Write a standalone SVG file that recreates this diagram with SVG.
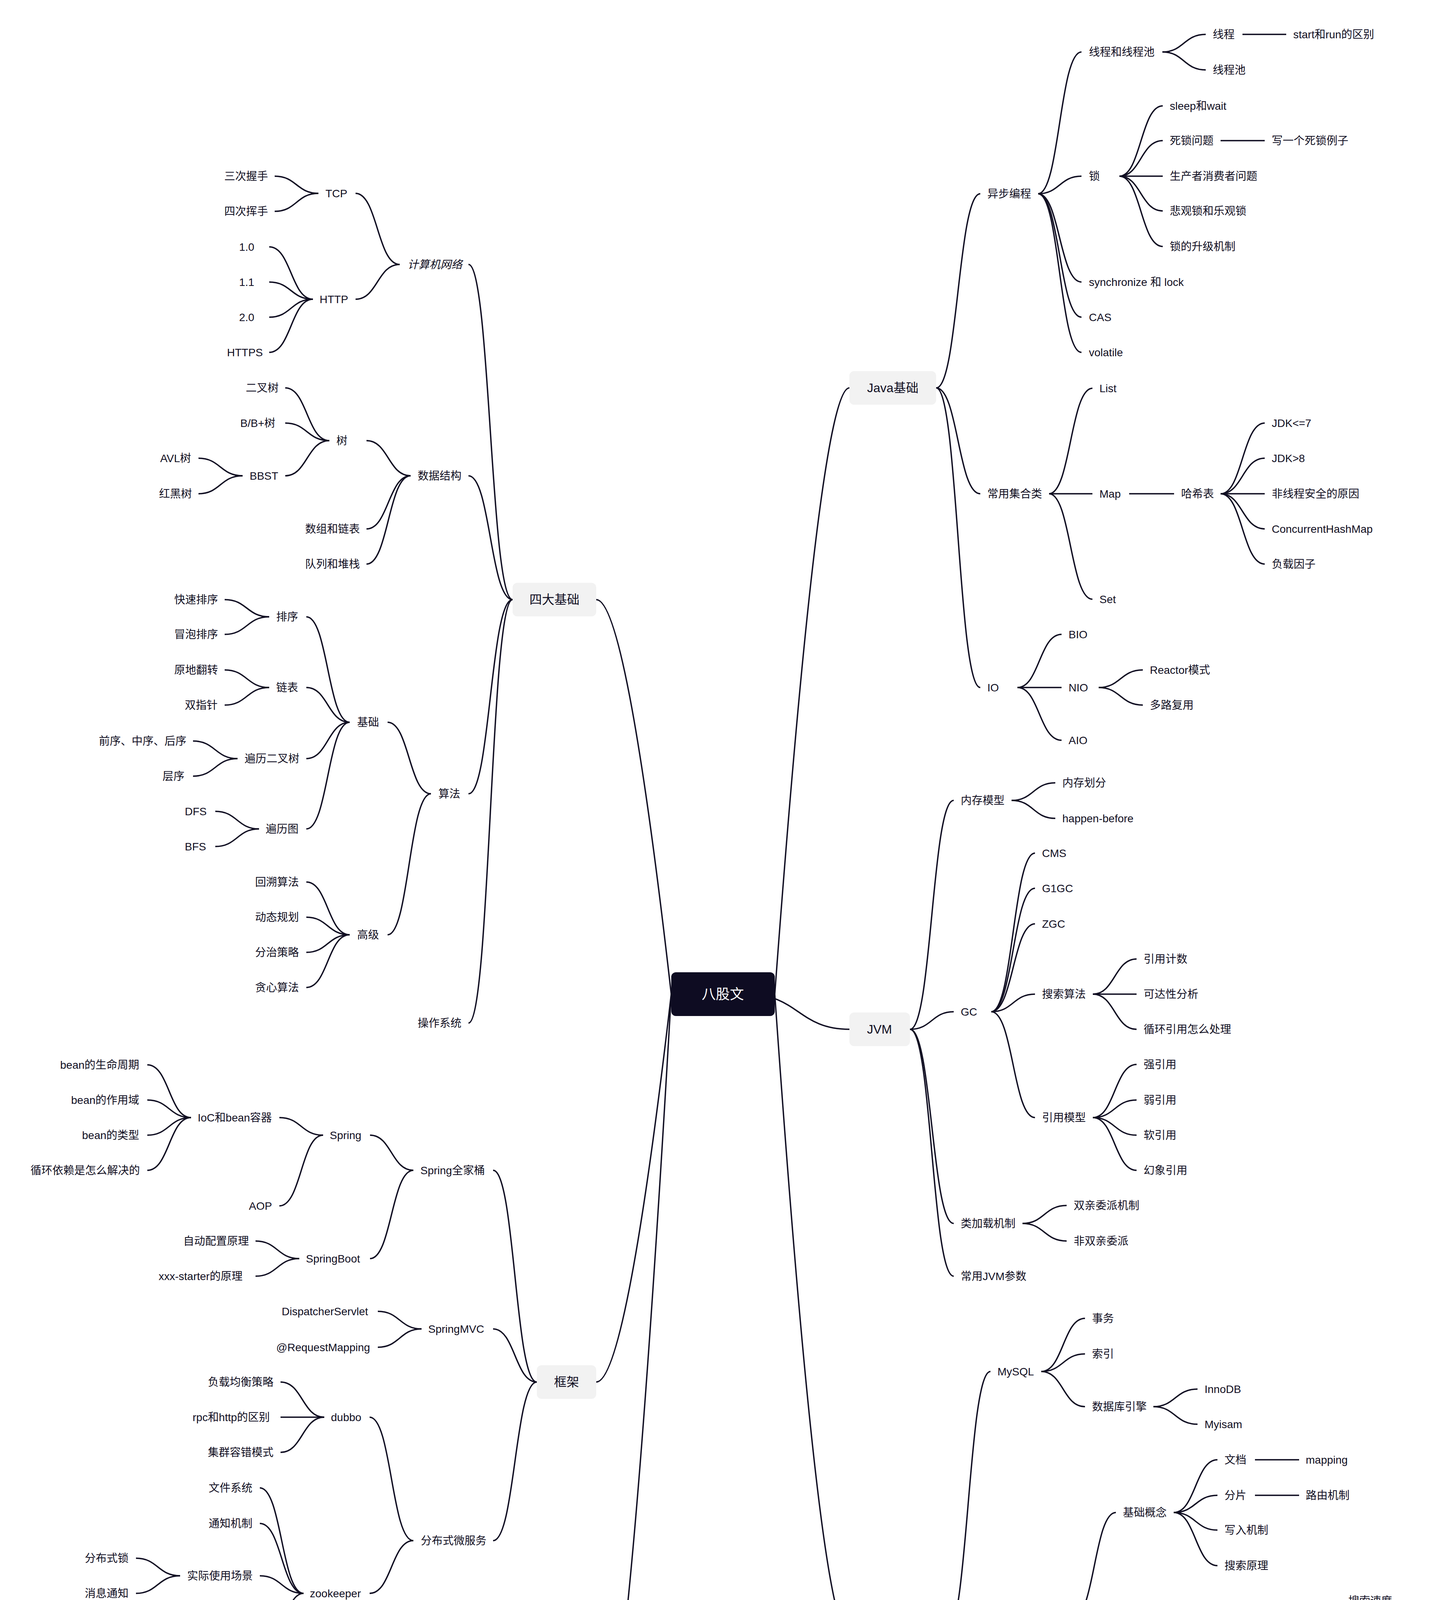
<svg xmlns="http://www.w3.org/2000/svg" width="3724" height="5090" viewBox="0 0 3724 5090">
<style>
.t{font-family:"Liberation Sans","Noto Sans CJK SC",sans-serif;font-size:28px;fill:#100e22}
.it{font-style:italic}
.l1 rect{fill:#f2f2f2}
.l1 text{font-family:"Liberation Sans","Noto Sans CJK SC",sans-serif;font-size:32px;fill:#100e22;text-anchor:middle}
.root rect{fill:#0e0c22}
.root text{font-family:"Liberation Sans","Noto Sans CJK SC",sans-serif;font-size:36px;fill:#ffffff;text-anchor:middle}
#connectors path{fill:none;stroke:#100e22;stroke-width:3.5}
</style>
<rect width="3724" height="5090" fill="#ffffff"/>
<g id="connectors">
<path d="M1983 2545Q2098 993 2174 993"/>
<path d="M1912 2545C2043 2545 2043 2635 2174 2635"/>
<path d="M1983 2545Q2098 4188 2174 4188"/>
<path d="M1718 2545Q1603 1535 1526 1535"/>
<path d="M1718 2545Q1603 3538 1526 3538"/>
<path d="M1718 2545Q1603 4546 1526 4546"/>
<path d="M2396 993C2452 993 2452 496 2509 496"/>
<path d="M2396 993C2452 993 2452 1264 2509 1264"/>
<path d="M2396 993C2452 993 2452 1760 2509 1760"/>
<path d="M2657 496C2712 496 2712 133 2768 133"/>
<path d="M2657 496C2712 496 2712 451 2768 451"/>
<path d="M2657 496C2712 496 2712 722 2768 722"/>
<path d="M2657 496C2712 496 2712 812 2768 812"/>
<path d="M2657 496C2712 496 2712 902 2768 902"/>
<path d="M2975 133C3030 133 3030 88 3086 88"/>
<path d="M2975 133C3030 133 3030 179 3086 179"/>
<path d="M3180 88H3292"/>
<path d="M2865 451C2920 451 2920 271 2976 271"/>
<path d="M2865 451C2920 451 2920 360 2976 360"/>
<path d="M2865 451H2976"/>
<path d="M2865 451C2920 451 2920 540 2976 540"/>
<path d="M2865 451C2920 451 2920 631 2976 631"/>
<path d="M3124 360H3237"/>
<path d="M2685 1264C2740 1264 2740 994 2796 994"/>
<path d="M2685 1264H2796"/>
<path d="M2685 1264C2740 1264 2740 1534 2796 1534"/>
<path d="M2890 1264H3005"/>
<path d="M3124 1264C3180 1264 3180 1083 3237 1083"/>
<path d="M3124 1264C3180 1264 3180 1173 3237 1173"/>
<path d="M3124 1264H3237"/>
<path d="M3124 1264C3180 1264 3180 1354 3237 1354"/>
<path d="M3124 1264C3180 1264 3180 1444 3237 1444"/>
<path d="M2604 1760C2660 1760 2660 1624 2717 1624"/>
<path d="M2604 1760H2717"/>
<path d="M2604 1760C2660 1760 2660 1895 2717 1895"/>
<path d="M2812 1760C2868 1760 2868 1715 2925 1715"/>
<path d="M2812 1760C2868 1760 2868 1805 2925 1805"/>
<path d="M2329 2635C2385 2635 2385 2049 2441 2049"/>
<path d="M2329 2635C2385 2635 2385 2590 2441 2590"/>
<path d="M2329 2635C2385 2635 2385 3132 2441 3132"/>
<path d="M2329 2635C2385 2635 2385 3267 2441 3267"/>
<path d="M2589 2049C2645 2049 2645 2004 2701 2004"/>
<path d="M2589 2049C2645 2049 2645 2095 2701 2095"/>
<path d="M2537 2590C2593 2590 2593 2184 2649 2184"/>
<path d="M2537 2590C2593 2590 2593 2274 2649 2274"/>
<path d="M2537 2590C2593 2590 2593 2365 2649 2365"/>
<path d="M2537 2590C2593 2590 2593 2545 2649 2545"/>
<path d="M2537 2590C2593 2590 2593 2861 2649 2861"/>
<path d="M2797 2545C2853 2545 2853 2455 2909 2455"/>
<path d="M2797 2545H2909"/>
<path d="M2797 2545C2853 2545 2853 2635 2909 2635"/>
<path d="M2797 2861C2853 2861 2853 2725 2909 2725"/>
<path d="M2797 2861C2853 2861 2853 2816 2909 2816"/>
<path d="M2797 2861C2853 2861 2853 2906 2909 2906"/>
<path d="M2797 2861C2853 2861 2853 2996 2909 2996"/>
<path d="M2617 3132C2673 3132 2673 3086 2730 3086"/>
<path d="M2617 3132C2673 3132 2673 3177 2730 3177"/>
<path d="M2421 4188C2478 4188 2478 3511 2535 3511"/>
<path d="M2421 4188C2478 4188 2478 4142 2535 4142"/>
<path d="M2421 4188C2478 4188 2478 4820 2535 4820"/>
<path d="M2665 3511C2721 3511 2721 3375 2777 3375"/>
<path d="M2665 3511C2721 3511 2721 3466 2777 3466"/>
<path d="M2665 3511C2721 3511 2721 3601 2777 3601"/>
<path d="M2952 3601C3008 3601 3008 3556 3065 3556"/>
<path d="M2952 3601C3008 3601 3008 3646 3065 3646"/>
<path d="M2747 4142C2801 4142 2801 3872 2856 3872"/>
<path d="M2747 4142C2801 4142 2801 4323 2856 4323"/>
<path d="M3004 3872C3060 3872 3060 3737 3116 3737"/>
<path d="M3004 3872C3060 3872 3060 3828 3116 3828"/>
<path d="M3004 3872C3060 3872 3060 3917 3116 3917"/>
<path d="M3004 3872C3060 3872 3060 4008 3116 4008"/>
<path d="M3212 3737H3325"/>
<path d="M3212 3828H3325"/>
<path d="M3004 4323C3060 4323 3060 4188 3116 4188"/>
<path d="M3004 4323C3060 4323 3060 4368 3116 4368"/>
<path d="M3004 4323C3060 4323 3060 4503 3116 4503"/>
<path d="M3320 4188C3376 4188 3376 4098 3433 4098"/>
<path d="M3320 4188H3433"/>
<path d="M3320 4188C3376 4188 3376 4278 3433 4278"/>
<path d="M3264 4503C3320 4503 3320 4458 3376 4458"/>
<path d="M3264 4503C3320 4503 3320 4548 3376 4548"/>
<path d="M2646 4820C2702 4820 2702 4774 2758 4774"/>
<path d="M2646 4820C2702 4820 2702 4999 2758 4999"/>
<path d="M2907 4774C2962 4774 2962 4640 3017 4640"/>
<path d="M2907 4774C2962 4774 2962 4730 3017 4730"/>
<path d="M2907 4774C2962 4774 2962 4820 3017 4820"/>
<path d="M2907 4774C2962 4774 2962 4911 3017 4911"/>
<path d="M2907 4999H3017"/>
<path d="M1312 1535C1255 1535 1255 677 1199 677"/>
<path d="M1312 1535C1255 1535 1255 1218 1199 1218"/>
<path d="M1312 1535C1255 1535 1255 2032 1199 2032"/>
<path d="M1312 1535C1255 1535 1255 2619 1199 2619"/>
<path d="M1023 677C966 677 966 495 910 495"/>
<path d="M1023 677C966 677 966 766 910 766"/>
<path d="M815 495C759 495 759 451 703 451"/>
<path d="M815 495C759 495 759 541 703 541"/>
<path d="M801 766C745 766 745 632 689 632"/>
<path d="M801 766C745 766 745 722 689 722"/>
<path d="M801 766C745 766 745 812 689 812"/>
<path d="M801 766C745 766 745 902 689 902"/>
<path d="M1051 1218C994 1218 994 1128 938 1128"/>
<path d="M1051 1218C994 1218 994 1354 938 1354"/>
<path d="M1051 1218C994 1218 994 1444 938 1444"/>
<path d="M843 1128C786 1128 786 993 730 993"/>
<path d="M843 1128C786 1128 786 1083 730 1083"/>
<path d="M843 1128C786 1128 786 1218 730 1218"/>
<path d="M621 1218C564 1218 564 1173 508 1173"/>
<path d="M621 1218C564 1218 564 1264 508 1264"/>
<path d="M1103 2032C1047 2032 1047 1849 992 1849"/>
<path d="M1103 2032C1047 2032 1047 2393 992 2393"/>
<path d="M895 1849C839 1849 839 1579 784 1579"/>
<path d="M895 1849C839 1849 839 1760 784 1760"/>
<path d="M895 1849C839 1849 839 1942 784 1942"/>
<path d="M895 1849C839 1849 839 2122 784 2122"/>
<path d="M689 1579C632 1579 632 1535 575 1535"/>
<path d="M689 1579C632 1579 632 1624 575 1624"/>
<path d="M689 1760C632 1760 632 1715 575 1715"/>
<path d="M689 1760C632 1760 632 1805 575 1805"/>
<path d="M608 1942C551 1942 551 1897 494 1897"/>
<path d="M608 1942C551 1942 551 1987 494 1987"/>
<path d="M663 2122C607 2122 607 2077 551 2077"/>
<path d="M663 2122C607 2122 607 2167 551 2167"/>
<path d="M895 2393C839 2393 839 2258 784 2258"/>
<path d="M895 2393C839 2393 839 2348 784 2348"/>
<path d="M895 2393C839 2393 839 2438 784 2438"/>
<path d="M895 2393C839 2393 839 2528 784 2528"/>
<path d="M1374 3538C1318 3538 1318 2996 1262 2996"/>
<path d="M1374 3538C1318 3538 1318 3402 1262 3402"/>
<path d="M1374 3538C1318 3538 1318 3944 1262 3944"/>
<path d="M1058 2996C1002 2996 1002 2906 947 2906"/>
<path d="M1058 2996C1002 2996 1002 3222 947 3222"/>
<path d="M827 2906C771 2906 771 2861 715 2861"/>
<path d="M827 2906C771 2906 771 3087 715 3087"/>
<path d="M489 2861C433 2861 433 2726 377 2726"/>
<path d="M489 2861C433 2861 433 2816 377 2816"/>
<path d="M489 2861C433 2861 433 2906 377 2906"/>
<path d="M489 2861C433 2861 433 2996 377 2996"/>
<path d="M766 3222C710 3222 710 3177 654 3177"/>
<path d="M766 3222C710 3222 710 3267 654 3267"/>
<path d="M1079 3402C1023 3402 1023 3357 967 3357"/>
<path d="M1079 3402C1023 3402 1023 3449 967 3449"/>
<path d="M1058 3944C1002 3944 1002 3628 946 3628"/>
<path d="M1058 3944C1002 3944 1002 4079 946 4079"/>
<path d="M830 3628C774 3628 774 3538 718 3538"/>
<path d="M830 3628H718"/>
<path d="M830 3628C774 3628 774 3718 718 3718"/>
<path d="M777 4079C721 4079 721 3809 665 3809"/>
<path d="M777 4079C721 4079 721 3900 665 3900"/>
<path d="M777 4079C721 4079 721 4034 665 4034"/>
<path d="M777 4079C721 4079 721 4260 665 4260"/>
<path d="M461 4034C404 4034 404 3989 348 3989"/>
<path d="M461 4034C404 4034 404 4079 348 4079"/>
<path d="M516 4260C460 4260 460 4171 404 4171"/>
<path d="M516 4260H404"/>
<path d="M516 4260C460 4260 460 4350 404 4350"/>
<path d="M1374 4546C1318 4546 1318 4457 1262 4457"/>
<path d="M1374 4546H1262"/>
<path d="M1374 4546C1318 4546 1318 4638 1262 4638"/>
</g>
<g id="root" class="root"><rect x="1718" y="2489" width="265" height="112" rx="12"/><text x="1850" y="2558">八股文</text></g>
<g id="java" class="l1"><rect x="2174" y="950" width="222" height="86" rx="12"/><text x="2285" y="1004">Java基础</text></g>
<g id="jvm" class="l1"><rect x="2174" y="2592" width="155" height="86" rx="12"/><text x="2251" y="2646">JVM</text></g>
<g id="middleware" class="l1"><rect x="2174" y="4145" width="247" height="86" rx="12"/><text x="2297" y="4199">常用中间件</text></g>
<g id="basics4" class="l1"><rect x="1312" y="1492" width="214" height="86" rx="12"/><text x="1419" y="1546">四大基础</text></g>
<g id="framework" class="l1"><rect x="1374" y="3495" width="152" height="86" rx="12"/><text x="1450" y="3549">框架</text></g>
<g id="other" class="l1"><rect x="1374" y="4503" width="152" height="86" rx="12"/><text x="1450" y="4557">其他</text></g>
<g id="async"><text class="t" x="2527" y="506">异步编程</text></g>
<g id="collections"><text class="t" x="2527" y="1274">常用集合类</text></g>
<g id="io"><text class="t" x="2527" y="1770">IO</text></g>
<g id="thread-pool"><text class="t" x="2787" y="143">线程和线程池</text></g>
<g id="lock"><text class="t" x="2787" y="461">锁</text></g>
<g id="sync-lock"><text class="t" x="2787" y="732">synchronize 和 lock</text></g>
<g id="cas"><text class="t" x="2787" y="822">CAS</text></g>
<g id="volatile"><text class="t" x="2787" y="912">volatile</text></g>
<g id="list"><text class="t" x="2814" y="1004">List</text></g>
<g id="map"><text class="t" x="2814" y="1274">Map</text></g>
<g id="set"><text class="t" x="2814" y="1544">Set</text></g>
<g id="bio"><text class="t" x="2735" y="1634">BIO</text></g>
<g id="nio"><text class="t" x="2735" y="1770">NIO</text></g>
<g id="aio"><text class="t" x="2735" y="1905">AIO</text></g>
<g id="thread"><text class="t" x="3104" y="98">线程</text></g>
<g id="pool"><text class="t" x="3104" y="189">线程池</text></g>
<g id="start-run"><text class="t" x="3310" y="98">start和run的区别</text></g>
<g id="sleep-wait"><text class="t" x="2994" y="281">sleep和wait</text></g>
<g id="deadlock"><text class="t" x="2994" y="370">死锁问题</text></g>
<g id="deadlock-ex"><text class="t" x="3255" y="370">写一个死锁例子</text></g>
<g id="producer-consumer"><text class="t" x="2994" y="461">生产者消费者问题</text></g>
<g id="pess-opt"><text class="t" x="2994" y="550">悲观锁和乐观锁</text></g>
<g id="lock-upgrade"><text class="t" x="2994" y="641">锁的升级机制</text></g>
<g id="hashtable"><text class="t" x="3023" y="1274">哈希表</text></g>
<g id="jdk7"><text class="t" x="3255" y="1093">JDK&lt;=7</text></g>
<g id="jdk8"><text class="t" x="3255" y="1183">JDK&gt;8</text></g>
<g id="unsafe"><text class="t" x="3255" y="1274">非线程安全的原因</text></g>
<g id="chm"><text class="t" x="3255" y="1364">ConcurrentHashMap</text></g>
<g id="loadfactor"><text class="t" x="3255" y="1454">负载因子</text></g>
<g id="reactor"><text class="t" x="2943" y="1725">Reactor模式</text></g>
<g id="multiplex"><text class="t" x="2943" y="1815">多路复用</text></g>
<g id="memmodel"><text class="t" x="2459" y="2059">内存模型</text></g>
<g id="gc"><text class="t" x="2459" y="2600">GC</text></g>
<g id="classload"><text class="t" x="2459" y="3142">类加载机制</text></g>
<g id="jvmparams"><text class="t" x="2459" y="3277">常用JVM参数</text></g>
<g id="memdiv"><text class="t" x="2719" y="2014">内存划分</text></g>
<g id="hb"><text class="t" x="2719" y="2105">happen-before</text></g>
<g id="cms"><text class="t" x="2667" y="2194">CMS</text></g>
<g id="g1gc"><text class="t" x="2667" y="2284">G1GC</text></g>
<g id="zgc"><text class="t" x="2667" y="2375">ZGC</text></g>
<g id="searchalg"><text class="t" x="2667" y="2555">搜索算法</text></g>
<g id="refmodel"><text class="t" x="2667" y="2871">引用模型</text></g>
<g id="refcount"><text class="t" x="2927" y="2465">引用计数</text></g>
<g id="reach"><text class="t" x="2927" y="2555">可达性分析</text></g>
<g id="cycle"><text class="t" x="2927" y="2645">循环引用怎么处理</text></g>
<g id="strong"><text class="t" x="2927" y="2735">强引用</text></g>
<g id="weak"><text class="t" x="2927" y="2826">弱引用</text></g>
<g id="soft"><text class="t" x="2927" y="2916">软引用</text></g>
<g id="phantom"><text class="t" x="2927" y="3006">幻象引用</text></g>
<g id="parent-deleg"><text class="t" x="2748" y="3096">双亲委派机制</text></g>
<g id="non-parent"><text class="t" x="2748" y="3187">非双亲委派</text></g>
<g id="mysql"><text class="t" x="2553" y="3521">MySQL</text></g>
<g id="es"><text class="t" x="2553" y="4152">Elasticsearch</text></g>
<g id="kafka"><text class="t" x="2553" y="4830">Kafka</text></g>
<g id="tx"><text class="t" x="2795" y="3385">事务</text></g>
<g id="index"><text class="t" x="2795" y="3476">索引</text></g>
<g id="engine"><text class="t" x="2795" y="3611">数据库引擎</text></g>
<g id="innodb"><text class="t" x="3083" y="3566">InnoDB</text></g>
<g id="myisam"><text class="t" x="3083" y="3656">Myisam</text></g>
<g id="es-basic"><text class="t" x="2874" y="3882">基础概念</text></g>
<g id="es-adv"><text class="t" x="2874" y="4333">高级技巧</text></g>
<g id="doc"><text class="t" x="3134" y="3747">文档</text></g>
<g id="shard"><text class="t" x="3134" y="3838">分片</text></g>
<g id="write"><text class="t" x="3134" y="3927">写入机制</text></g>
<g id="searchprin"><text class="t" x="3134" y="4018">搜索原理</text></g>
<g id="mapping"><text class="t" x="3342" y="3747">mapping</text></g>
<g id="routing"><text class="t" x="3342" y="3838">路由机制</text></g>
<g id="optim"><text class="t" x="3134" y="4198">常见优化手段</text></g>
<g id="splitbrain"><text class="t" x="3134" y="4378">脑裂问题</text></g>
<g id="election"><text class="t" x="3134" y="4513">选主机制</text></g>
<g id="speed"><text class="t" x="3451" y="4108">搜索速度</text></g>
<g id="inaccurate"><text class="t" x="3451" y="4198">搜索不准确优化</text></g>
<g id="fastwrite"><text class="t" x="3451" y="4288">加快写入</text></g>
<g id="v10"><text class="t" x="3394" y="4468">1.0 ~ 6.x</text></g>
<g id="v7"><text class="t" x="3394" y="4558">7.x之后</text></g>
<g id="k-basic"><text class="t" x="2776" y="4784">基本概念</text></g>
<g id="k-cluster"><text class="t" x="2776" y="5009">集群模式</text></g>
<g id="topic"><text class="t" x="3035" y="4650">topic</text></g>
<g id="broker"><text class="t" x="3035" y="4740">broker</text></g>
<g id="producer"><text class="t" x="3035" y="4830">producer</text></g>
<g id="consumer"><text class="t" x="3035" y="4921">consumer</text></g>
<g id="master-slave"><text class="t" x="3035" y="5009">主从</text></g>
<g id="network"><text class="t it" x="1043" y="687">计算机网络</text></g>
<g id="ds"><text class="t" x="1069" y="1228">数据结构</text></g>
<g id="algo"><text class="t" x="1122" y="2042">算法</text></g>
<g id="os"><text class="t" x="1069" y="2629">操作系统</text></g>
<g id="tcp"><text class="t" x="833" y="505">TCP</text></g>
<g id="http"><text class="t" x="818" y="776">HTTP</text></g>
<g id="hs3"><text class="t" x="574" y="461">三次握手</text></g>
<g id="hs4"><text class="t" x="574" y="551">四次挥手</text></g>
<g id="h10"><text class="t" x="612" y="642">1.0</text></g>
<g id="h11"><text class="t" x="612" y="732">1.1</text></g>
<g id="h20"><text class="t" x="612" y="822">2.0</text></g>
<g id="https"><text class="t" x="581" y="912">HTTPS</text></g>
<g id="tree"><text class="t" x="861" y="1138">树</text></g>
<g id="array-list"><text class="t" x="781" y="1364">数组和链表</text></g>
<g id="queue-stack"><text class="t" x="781" y="1454">队列和堆栈</text></g>
<g id="bintree"><text class="t" x="629" y="1003">二叉树</text></g>
<g id="btree"><text class="t" x="615" y="1093">B/B+树</text></g>
<g id="bbst"><text class="t" x="639" y="1228">BBST</text></g>
<g id="avl"><text class="t" x="410" y="1183">AVL树</text></g>
<g id="rbt"><text class="t" x="407" y="1274">红黑树</text></g>
<g id="a-basic"><text class="t" x="914" y="1859">基础</text></g>
<g id="a-adv"><text class="t" x="914" y="2403">高级</text></g>
<g id="sort"><text class="t" x="707" y="1589">排序</text></g>
<g id="linked"><text class="t" x="707" y="1770">链表</text></g>
<g id="traverse-tree"><text class="t" x="626" y="1952">遍历二叉树</text></g>
<g id="traverse-graph"><text class="t" x="680" y="2132">遍历图</text></g>
<g id="quicksort"><text class="t" x="446" y="1545">快速排序</text></g>
<g id="bubblesort"><text class="t" x="446" y="1634">冒泡排序</text></g>
<g id="reverse"><text class="t" x="446" y="1725">原地翻转</text></g>
<g id="twoptr"><text class="t" x="473" y="1815">双指针</text></g>
<g id="preorder"><text class="t" x="253" y="1907">前序、中序、后序</text></g>
<g id="levelorder"><text class="t" x="416" y="1997">层序</text></g>
<g id="dfs"><text class="t" x="473" y="2087">DFS</text></g>
<g id="bfs"><text class="t" x="473" y="2177">BFS</text></g>
<g id="backtrack"><text class="t" x="653" y="2268">回溯算法</text></g>
<g id="dp"><text class="t" x="653" y="2358">动态规划</text></g>
<g id="divide"><text class="t" x="653" y="2448">分治策略</text></g>
<g id="greedy"><text class="t" x="653" y="2538">贪心算法</text></g>
<g id="spring-family"><text class="t" x="1076" y="3006">Spring全家桶</text></g>
<g id="springmvc"><text class="t" x="1096" y="3412">SpringMVC</text></g>
<g id="distributed"><text class="t" x="1077" y="3954">分布式微服务</text></g>
<g id="spring"><text class="t" x="844" y="2916">Spring</text></g>
<g id="springboot"><text class="t" x="783" y="3232">SpringBoot</text></g>
<g id="ioc"><text class="t" x="506" y="2871">IoC和bean容器</text></g>
<g id="aop"><text class="t" x="637" y="3097">AOP</text></g>
<g id="bean-life"><text class="t" x="154" y="2736">bean的生命周期</text></g>
<g id="bean-scope"><text class="t" x="182" y="2826">bean的作用域</text></g>
<g id="bean-type"><text class="t" x="210" y="2916">bean的类型</text></g>
<g id="circular"><text class="t" x="78" y="3006">循环依赖是怎么解决的</text></g>
<g id="autoconfig"><text class="t" x="469" y="3187">自动配置原理</text></g>
<g id="starter"><text class="t" x="406" y="3277">xxx-starter的原理</text></g>
<g id="dispatcher"><text class="t" x="721" y="3367">DispatcherServlet</text></g>
<g id="reqmapping"><text class="t" x="707" y="3459">@RequestMapping</text></g>
<g id="dubbo"><text class="t" x="847" y="3638">dubbo</text></g>
<g id="zookeeper"><text class="t" x="793" y="4089">zookeeper</text></g>
<g id="lb"><text class="t" x="532" y="3548">负载均衡策略</text></g>
<g id="rpc-http"><text class="t" x="493" y="3638">rpc和http的区别</text></g>
<g id="faulttol"><text class="t" x="532" y="3728">集群容错模式</text></g>
<g id="fs"><text class="t" x="534" y="3819">文件系统</text></g>
<g id="notify"><text class="t" x="534" y="3910">通知机制</text></g>
<g id="usecase"><text class="t" x="479" y="4044">实际使用场景</text></g>
<g id="workprin"><text class="t" x="534" y="4270">工作原理</text></g>
<g id="distlock"><text class="t" x="217" y="3999">分布式锁</text></g>
<g id="msgnotify"><text class="t" x="217" y="4089">消息通知</text></g>
<g id="zab"><text class="t" x="284" y="4181">zab协议</text></g>
<g id="leader"><text class="t" x="217" y="4270">集群选主机制</text></g>
<g id="watch"><text class="t" x="252" y="4360">watch机制</text></g>
<g id="design"><text class="t" x="1133" y="4467">设计模式</text></g>
<g id="project"><text class="t" x="1133" y="4556">项目经历</text></g>
<g id="scenario"><text class="t" x="1133" y="4648">场景设计</text></g>
</svg>
